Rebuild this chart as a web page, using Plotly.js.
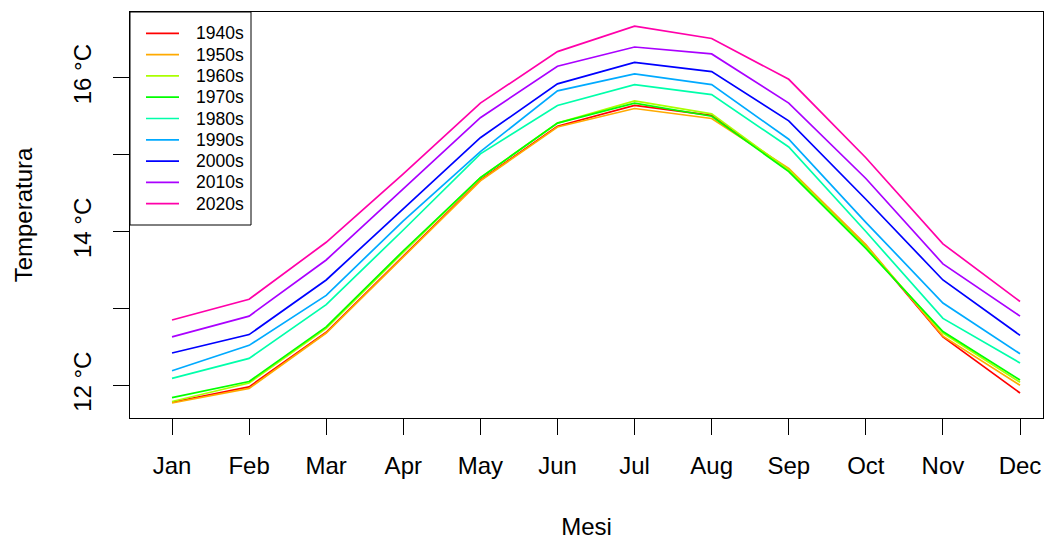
<!DOCTYPE html>
<html>
<head>
<meta charset="utf-8">
<script src="https://cdn.plot.ly/plotly-3.0.1.min.js"></script>
<style>html,body{margin:0;padding:0;background:#fff;}#chart{width:1044px;height:542px;}</style>
</head>
<body>
<div id="chart"></div>
<script>
const months = ["Jan","Feb","Mar","Apr","May","Jun","Jul","Aug","Sep","Oct","Nov","Dec"];
const decades = ["1940s","1950s","1960s","1970s","1980s","1990s","2000s","2010s","2020s"];
const colors = ["#FF0000","#FFAA00","#AAFF00","#00FF00","#00FFAA","#00AAFF","#0000FF","#AA00FF","#FF00AA"];

const t1940s = [11.78, 11.98, 12.69, 13.68, 14.67, 15.37, 15.64, 15.51, 14.80, 13.82, 12.63, 11.90];
const t1950s = [11.77, 11.96, 12.68, 13.67, 14.66, 15.36, 15.60, 15.47, 14.82, 13.83, 12.64, 12.00];
const t1960s = [11.79, 12.03, 12.74, 13.73, 14.70, 15.41, 15.70, 15.53, 14.80, 13.80, 12.68, 12.04];
const t1970s = [11.84, 12.05, 12.76, 13.75, 14.70, 15.41, 15.67, 15.50, 14.78, 13.78, 12.70, 12.07];
const t1980s = [12.09, 12.35, 13.05, 14.02, 15.01, 15.64, 15.91, 15.78, 15.10, 14.00, 12.87, 12.29];
const t1990s = [12.19, 12.52, 13.17, 14.14, 15.04, 15.83, 16.05, 15.91, 15.20, 14.12, 13.07, 12.41];
const t2000s = [12.42, 12.66, 13.37, 14.30, 15.22, 15.92, 16.20, 16.08, 15.44, 14.42, 13.37, 12.65];
const t2010s = [12.63, 12.90, 13.63, 14.56, 15.48, 16.15, 16.40, 16.31, 15.67, 14.69, 13.58, 12.90];
const t2020s = [12.85, 13.12, 13.86, 14.75, 15.67, 16.34, 16.67, 16.51, 15.98, 14.96, 13.84, 13.09];

const series = [t1940s, t1950s, t1960s, t1970s, t1980s, t1990s, t2000s, t2010s, t2020s];

const yTickVals = [12, 13, 14, 15, 16];
const yTickText = ["12 °C", "", "14 °C", "", "16 °C"];

const FONT = "Liberation Sans, Arial, Helvetica, sans-serif";

// plot area in pixels (for placing the R-style legend box)
const W = 1044, H = 542, ML = 130, MR = 1, MT = 12, MB = 124;
const PW = W - ML - MR, PH = H - MT - MB;
const px = v => (v - ML) / PW;
const py = v => (H - MB - v) / PH;

const traces = series.map((vals, i) => ({
  x: months,
  y: vals,
  type: "scatter",
  mode: "lines",
  name: decades[i],
  showlegend: false,
  line: {color: colors[i], width: 1.7}
}));

// legend (R legend() style): box, line samples, labels
const shapes = [{
  type: "rect", xref: "paper", yref: "paper",
  x0: px(130), x1: px(251), y0: py(225), y1: py(12),
  line: {color: "#000", width: 1}, fillcolor: "#fff", layer: "above"
}];
const annotations = [];
decades.forEach((d, i) => {
  const yy = 33.3 + 21.3 * i;
  shapes.push({
    type: "line", xref: "paper", yref: "paper",
    x0: px(146), x1: px(179), y0: py(yy), y1: py(yy),
    line: {color: colors[i], width: 1.7}, layer: "above"
  });
  annotations.push({
    xref: "paper", yref: "paper", x: px(194), y: py(yy),
    xanchor: "left", yanchor: "middle", showarrow: false,
    text: d, font: {family: FONT, size: 17.5, color: "#000"}
  });
});

const layout = {
  width: W,
  height: H,
  margin: {l: ML, r: MR, t: MT, b: MB},
  paper_bgcolor: "#fff",
  plot_bgcolor: "#fff",
  font: {family: FONT, color: "#000", size: 24},
  showlegend: false,
  shapes: shapes,
  annotations: annotations,
  xaxis: {
    type: "category",
    range: [-0.545, 11.298],
    showgrid: false, zeroline: false,
    showline: true, mirror: true, linecolor: "#000", linewidth: 1,
    ticks: "outside", ticklen: 16, tickwidth: 1, tickcolor: "#000",
    tickfont: {family: FONT, size: 24, color: "#000"},
    ticklabelstandoff: 10,
    title: {text: "Mesi", font: {family: FONT, size: 24, color: "#000"}, standoff: 40},
    fixedrange: true
  },
  yaxis: {
    range: [11.575, 16.855],
    showgrid: false, zeroline: false,
    showline: true, mirror: true, linecolor: "#000", linewidth: 1,
    ticks: "outside", ticklen: 16, tickwidth: 1, tickcolor: "#000",
    tickmode: "array", tickvals: yTickVals, ticktext: yTickText,
    tickangle: -90,
    tickfont: {family: FONT, size: 24, color: "#000"},
    ticklabelstandoff: 12,
    title: {text: "Temperatura", font: {family: FONT, size: 24, color: "#000"}, standoff: 30},
    fixedrange: true
  }
};

Plotly.newPlot("chart", traces, layout, {displayModeBar: false, staticPlot: true});
</script>
</body>
</html>
